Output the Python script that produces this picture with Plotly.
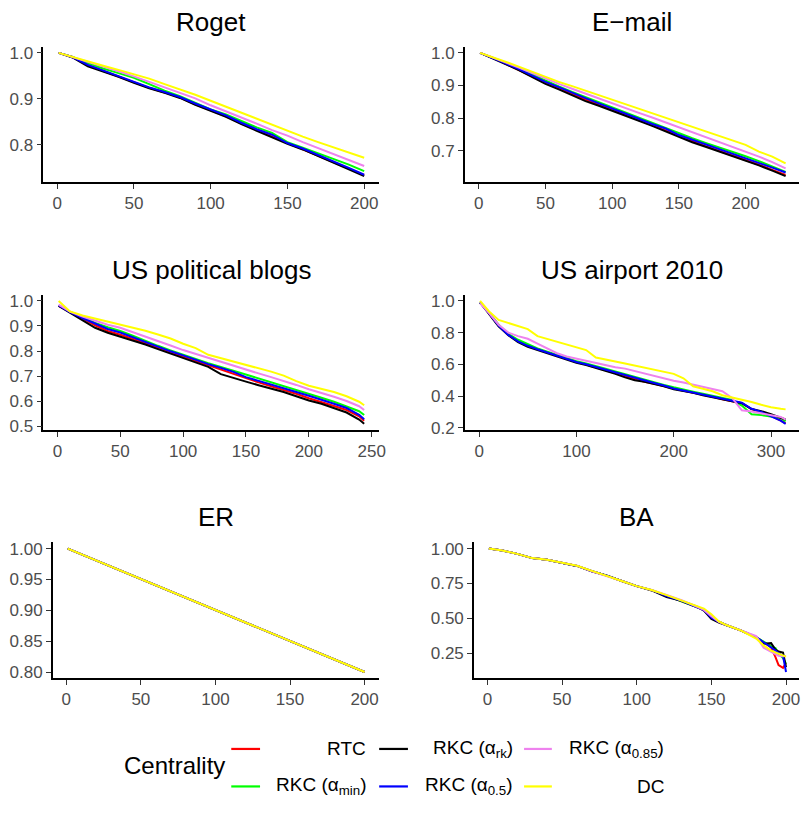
import plotly.graph_objects as go

W, H = 805, 827
FONT = "Liberation Sans, Arial, Helvetica, sans-serif"

series_labels = ["RTC", "RKC (α<sub>min</sub>)", "RKC (α<sub>rk</sub>)",
                 "RKC (α<sub>0.5</sub>)", "RKC (α<sub>0.85</sub>)", "DC"]
series_colors = ["#FF0000", "#00FF00", "#000000", "#0000FF", "#EE82EE", "#FFFF00"]
panel_titles = ["Roget", "E−mail", "US political blogs", "US airport 2010", "ER", "BA"]

# ---------------- Roget ----------------
roget_x = [1, 10, 20, 30, 40, 50, 60, 70, 80, 90, 100, 110, 120, 130, 140, 150, 160, 170, 180, 190, 200]
roget_rtc = [1.0, .991, .973, .961, .949, .937, .924, .914, .903, .888, .875, .862, .846, .832, .818, .804, .791, .777, .763, .748, .734]
roget_min = [1.0, .991, .978, .966, .956, .946, .932, .918, .906, .892, .877, .866, .852, .838, .826, .806, .794, .782, .770, .757, .743]
roget_rk = [1.0, .990, .971, .960, .948, .935, .923, .913, .902, .887, .874, .861, .845, .831, .817, .802, .790, .776, .762, .747, .732]
roget_a05 = [1.0, .991, .974, .962, .950, .938, .925, .915, .904, .890, .877, .864, .848, .834, .822, .804, .792, .778, .765, .750, .735]
roget_a085 = [1.0, .991, .980, .970, .960, .949, .937, .925, .914, .901, .886, .873, .859, .846, .832, .820, .806, .793, .780, .767, .754]
roget_dc = [1.0, .991, .981, .972, .963, .954, .944, .932, .921, .909, .896, .883, .870, .857, .843, .830, .818, .806, .795, .784, .772]

# ---------------- E-mail ----------------
email_x = [1, 10, 20, 30, 40, 50, 60, 70, 80, 90, 100, 110, 120, 130, 140, 150, 160, 170, 180, 190, 200, 210, 220, 230]
email_rtc = [1.0, .986, .967, .948, .928, .907, .890, .872, .855, .840, .825, .811, .794, .778, .762, .745, .729, .714, .700, .686, .671, .657, .641, .626]
email_min = [1.0, .986, .969, .952, .933, .914, .897, .880, .864, .848, .833, .818, .801, .785, .770, .753, .738, .724, .711, .697, .683, .668, .652, .635]
email_rk = [1.0, .985, .966, .947, .926, .905, .888, .870, .852, .838, .823, .809, .792, .776, .759, .741, .726, .712, .698, .684, .669, .655, .639, .622]
email_a05 = [1.0, .986, .968, .950, .930, .911, .895, .877, .861, .845, .830, .815, .798, .782, .768, .748, .734, .719, .705, .692, .678, .664, .648, .633]
email_a085 = [1.0, .987, .971, .955, .938, .921, .905, .890, .875, .860, .844, .830, .816, .802, .787, .773, .758, .743, .728, .713, .698, .682, .665, .646]
email_dc = [1.0, .988, .973, .958, .942, .926, .911, .898, .884, .871, .857, .842, .830, .816, .802, .788, .774, .760, .745, .732, .718, .697, .682, .661]

# ---------------- US political blogs ----------------
blogs_x = [1, 10, 20, 30, 40, 50, 60, 70, 80, 90, 100, 110, 120, 130, 140, 150, 160, 170, 180, 190, 200, 210, 220, 230, 240, 244]
blogs_rtc = [.980, .955, .930, .903, .880, .865, .850, .832, .812, .795, .778, .760, .742, .726, .709, .690, .675, .660, .646, .630, .612, .598, .581, .565, .540, .522]
blogs_min = [.982, .956, .935, .912, .895, .880, .861, .840, .821, .803, .785, .768, .752, .737, .722, .707, .692, .677, .661, .645, .629, .614, .598, .580, .560, .545]
blogs_rk = [.980, .953, .925, .893, .873, .858, .843, .826, .808, .790, .772, .752, .737, .708, .692, .678, .664, .651, .637, .620, .603, .590, .573, .555, .527, .510]
blogs_a05 = [.982, .955, .932, .910, .888, .874, .855, .835, .815, .799, .783, .765, .748, .733, .717, .696, .682, .666, .651, .637, .622, .607, .590, .573, .546, .528]
blogs_a085 = [.985, .957, .938, .922, .905, .893, .876, .858, .840, .822, .804, .788, .772, .756, .740, .726, .711, .696, .682, .665, .648, .634, .618, .601, .580, .565]
blogs_dc = [1.0, .958, .942, .930, .917, .906, .894, .881, .866, .850, .829, .812, .785, .772, .758, .745, .730, .718, .702, .680, .662, .650, .637, .620, .598, .584]

# ---------------- US airport 2010 ----------------
airport_x = [1, 10, 20, 30, 40, 50, 60, 70, 80, 90, 100, 110, 120, 130, 140, 150, 160, 170, 180, 190, 200,
             210, 220, 230, 240, 250, 260, 270, 280, 290, 300, 310, 315]
airport_rtc = [.99, .925, .845, .788, .748, .718, .697, .677, .655, .633, .614, .598, .580, .562, .545, .527, .508, .490, .478, .465, .448,
               .434, .422, .408, .395, .380, .368, .355, .318, .298, .275, .245, .228]
airport_min = [.99, .928, .850, .792, .755, .728, .700, .680, .660, .640, .620, .605, .590, .572, .555, .537, .520, .502, .485, .470, .455,
               .440, .428, .415, .402, .388, .375, .340, .285, .280, .272, .262, .240]
airport_rk = [.99, .922, .840, .783, .740, .710, .690, .672, .652, .632, .610, .595, .578, .560, .540, .518, .500, .490, .478, .462, .443,
              .432, .420, .405, .392, .380, .370, .355, .318, .305, .285, .265, .252]
airport_a05 = [.99, .925, .845, .786, .745, .717, .695, .675, .655, .635, .615, .600, .583, .567, .550, .530, .512, .496, .482, .466, .448,
               .435, .422, .410, .398, .385, .372, .358, .320, .300, .272, .245, .225]
airport_a085 = [.985, .925, .850, .800, .778, .761, .730, .700, .670, .649, .635, .622, .607, .592, .582, .573, .558, .540, .524, .510, .496,
                .485, .472, .458, .445, .430, .388, .310, .302, .292, .282, .268, .252]
airport_dc = [1.0, .935, .880, .860, .842, .822, .778, .760, .745, .728, .710, .690, .643, .632, .618, .605, .592, .578, .565, .553, .540,
              .512, .462, .446, .430, .405, .392, .378, .362, .345, .330, .320, .316]

# ---------------- ER ----------------
er_x = [1, 50, 100, 150, 200]
er_rtc = [1.0, .951, .901, .850, .800]
er_min = [1.0, .951, .901, .850, .800]
er_rk = [1.0, .951, .901, .850, .800]
er_a05 = [1.0, .951, .901, .850, .800]
er_a085 = [1.0, .951, .901, .850, .800]
er_dc = [1.0, .951, .901, .850, .800]

# ---------------- BA ----------------
ba_x = [1, 10, 20, 30, 40, 50, 60, 70, 80, 90, 100, 110, 120, 130, 140, 145, 150, 155, 160, 170, 180, 185, 190, 193, 195, 198, 200]
ba_rtc = [1.0, .986, .962, .932, .920, .900, .876, .838, .806, .768, .731, .702, .662, .627, .587, .562, .508, .476, .452, .412, .365, .328, .292, .220, .165, .145, .180]
ba_min = [1.0, .986, .962, .932, .920, .900, .876, .838, .806, .768, .731, .702, .662, .627, .587, .562, .508, .476, .452, .412, .365, .330, .300, .285, .245, .215, .175]
ba_rk = [1.0, .986, .962, .932, .920, .900, .876, .838, .806, .768, .731, .700, .652, .625, .585, .555, .495, .470, .450, .412, .362, .318, .322, .275, .262, .255, .150]
ba_a05 = [1.0, .986, .962, .932, .920, .900, .876, .838, .806, .768, .731, .702, .660, .625, .585, .560, .505, .475, .452, .412, .365, .330, .290, .270, .250, .230, .115]
ba_a085 = [1.0, .986, .962, .932, .920, .900, .877, .838, .805, .768, .731, .703, .668, .630, .585, .560, .515, .475, .452, .410, .372, .290, .262, .240, .232, .228, .230]
ba_dc = [1.0, .986, .962, .932, .920, .900, .877, .840, .806, .768, .731, .703, .666, .626, .590, .570, .530, .478, .452, .412, .355, .306, .268, .255, .252, .235, .225]

# tick values
roget_yticks = [0.8, 0.9, 1.0]
email_yticks = [0.7, 0.8, 0.9, 1.0]
blogs_yticks = [0.5, 0.6, 0.7, 0.8, 0.9, 1.0]
airport_yticks = [0.2, 0.4, 0.6, 0.8, 1.0]
er_yticks = [0.80, 0.85, 0.90, 0.95, 1.00]
ba_yticks = [0.25, 0.50, 0.75, 1.00]
x200_ticks = [0, 50, 100, 150, 200]
x250_ticks = [0, 50, 100, 150, 200, 250]
x300_ticks = [0, 100, 200, 300]

panels = [
    (roget_x, [roget_rtc, roget_min, roget_rk, roget_a05, roget_a085, roget_dc], x200_ticks, roget_yticks, ".1f"),
    (email_x, [email_rtc, email_min, email_rk, email_a05, email_a085, email_dc], x200_ticks, email_yticks, ".1f"),
    (blogs_x, [blogs_rtc, blogs_min, blogs_rk, blogs_a05, blogs_a085, blogs_dc], x250_ticks, blogs_yticks, ".1f"),
    (airport_x, [airport_rtc, airport_min, airport_rk, airport_a05, airport_a085, airport_dc], x300_ticks, airport_yticks, ".1f"),
    (er_x, [er_rtc, er_min, er_rk, er_a05, er_a085, er_dc], x200_ticks, er_yticks, ".2f"),
    (ba_x, [ba_rtc, ba_min, ba_rk, ba_a05, ba_a085, ba_dc], x200_ticks, ba_yticks, ".2f"),
]

# layout geometry in pixels
col_right = [382.3, 806.9]
axis_left = [43.7, 468.3, 43.7, 468.3, 53.3, 477.6]
rows_px = [(44.3, 181.7), (295.7, 432.7), (546.7, 684.3)]
title_y_px = [17.5, 269.0, 519.5]

fig = go.Figure()
layout = dict(
    width=W, height=H, margin=dict(l=0, r=0, t=0, b=0),
    paper_bgcolor="white", plot_bgcolor="white", showlegend=False,
    font=dict(family=FONT, color="#4D4D4D"),
)
annotations = []
shapes = []

def expand(lo, hi, f=0.05):
    s = hi - lo
    return lo - f * s, hi + f * s

for i, (xs, ys_list, xt, yt, yfmt) in enumerate(panels):
    r, c = divmod(i, 2)
    k = "" if i == 0 else str(i + 1)
    for name, col, ys in zip(series_labels, series_colors, ys_list):
        fig.add_trace(go.Scatter(x=xs, y=ys, mode="lines", name=name,
                                 line=dict(color=col, width=2),
                                 xaxis="x" + k, yaxis="y" + k, hoverinfo="skip"))
    x0, x1 = expand(min(xs), max(xs))
    all_y = [v for ys in ys_list for v in ys]
    y0, y1 = expand(min(all_y), max(all_y))
    left = axis_left[i]
    right = col_right[c]
    scale = (right - left) / (x1 - x0)
    if right > W:
        x1 = x0 + (W - left) / scale
        right = W
    top, bot = rows_px[r]
    common = dict(showgrid=False, zeroline=False, showline=True, linecolor="black", linewidth=1.6,
                  ticks="outside", ticklen=5, tickwidth=1.3, tickcolor="#333333",
                  tickfont=dict(family=FONT, size=17, color="#4D4D4D"))
    layout["xaxis" + k] = dict(domain=[left / W, right / W], range=[x0, x1], tickvals=xt,
                               anchor="y" + k, **common)
    layout["yaxis" + k] = dict(domain=[1 - bot / H, 1 - top / H], range=[y0, y1], tickvals=yt,
                               tickformat=yfmt, anchor="x" + k, **common)
    annotations.append(dict(text=panel_titles[i], xref="paper", yref="paper",
                            x=(left + right) / 2 / W, y=1 - (title_y_px[r] + 1.5) / H,
                            xanchor="center", yanchor="middle", showarrow=False,
                            font=dict(family=FONT, size=26, color="black")))

# ---- custom legend (ggplot style, 2 rows x 3 columns, column-major) ----
leg_rows_y = [756, 794]
leg_key_x = [(233, 262), (382, 411), (528, 556)]
leg_text_right = [371, 519, 671]
for j, (name, col) in enumerate(zip(series_labels, series_colors)):
    cc, rr = divmod(j, 2)
    ky = 1 - leg_rows_y[rr] / H
    shapes.append(dict(type="line", xref="paper", yref="paper",
                       x0=leg_key_x[cc][0] / W, x1=leg_key_x[cc][1] / W, y0=ky, y1=ky,
                       line=dict(color=col, width=2.2)))
    annotations.append(dict(text=name, xref="paper", yref="paper",
                            x=leg_text_right[cc] / W, y=ky, xanchor="right", yanchor="middle",
                            showarrow=False, font=dict(family=FONT, size=19, color="black")))
annotations.append(dict(text="Centrality", xref="paper", yref="paper",
                        x=123 / W, y=1 - 773 / H, xanchor="left", yanchor="middle",
                        showarrow=False, font=dict(family=FONT, size=24, color="black")))

layout["annotations"] = annotations
layout["shapes"] = shapes
fig.update_layout(**layout)
fig.write_html("out.html")
